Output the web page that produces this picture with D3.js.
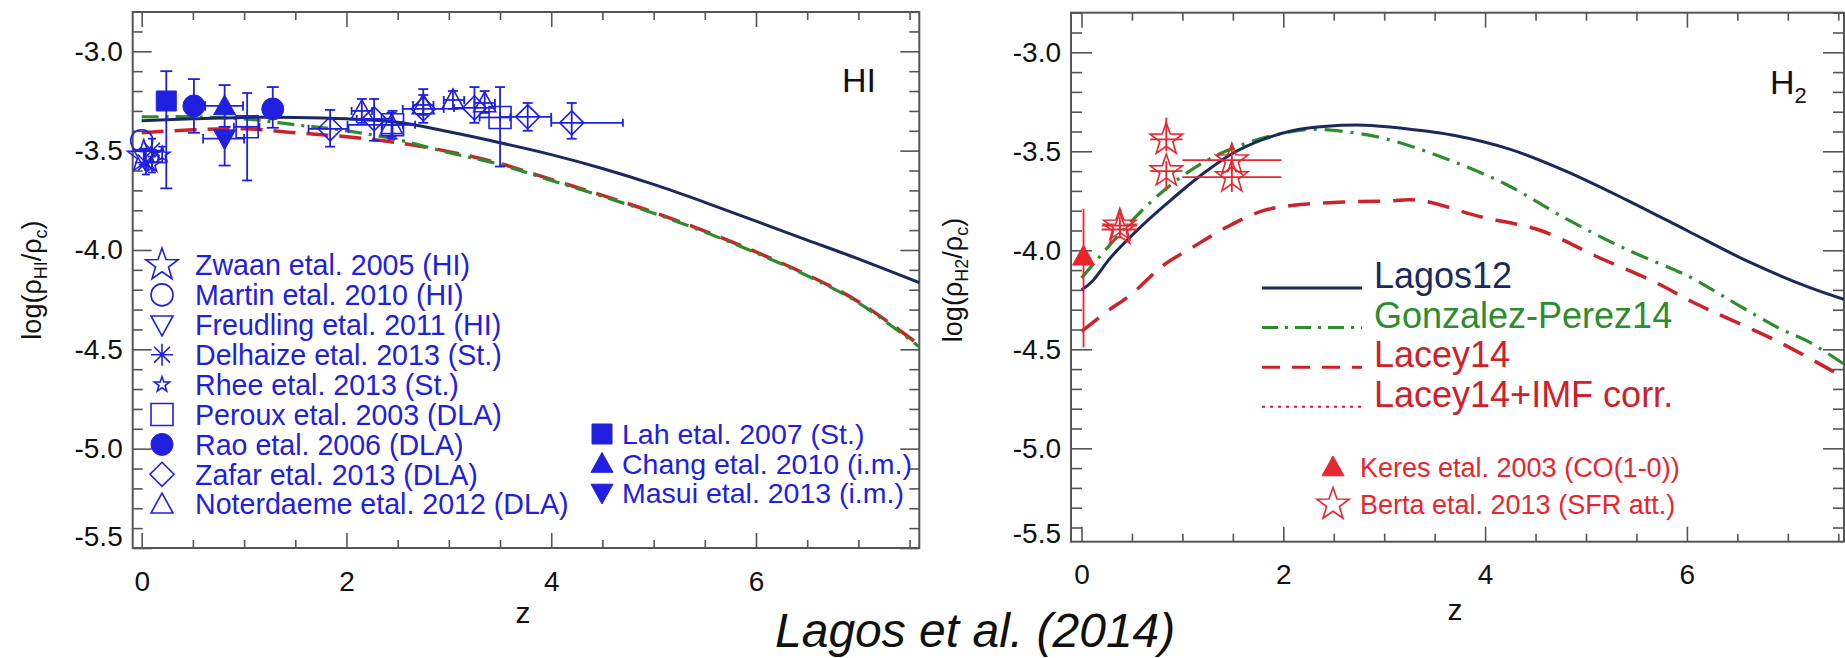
<!DOCTYPE html>
<html>
<head>
<meta charset="utf-8">
<script src="https://cdn.jsdelivr.net/npm/d3@7"></script>
<style>
  body { margin: 0; background: #fff; }
  text { font-family: "Liberation Sans", Arial, sans-serif; }
</style>
</head>
<body>
<script>
// ---- model curves, HI panel ----
const hiZ       = [0, 0.5, 1, 1.5, 2, 2.5, 3, 3.5, 4, 4.5, 5, 5.5, 6, 6.5, 7, 7.6];
const hiLagos12 = [-3.35, -3.34, -3.333, -3.333, -3.34, -3.357, -3.405, -3.46, -3.52, -3.59, -3.67, -3.76, -3.855, -3.95, -4.045, -4.165];
const hiGP14    = [-3.33, -3.33, -3.34, -3.37, -3.40, -3.445, -3.51, -3.57, -3.65, -3.73, -3.815, -3.91, -4.015, -4.13, -4.265, -4.49];
const hiLacey14 = [-3.41, -3.395, -3.39, -3.41, -3.43, -3.46, -3.505, -3.565, -3.645, -3.725, -3.81, -3.905, -4.01, -4.125, -4.26, -4.48];

// ---- model curves, H2 panel ----
const h2LagosZ  = [0, 0.1, 0.3, 0.6, 0.9, 1.2, 1.5, 1.8, 2.1, 2.4, 2.8, 3.2, 3.7, 4.25, 4.8, 5.4, 6.0, 6.6, 7.2, 7.6];
const h2Lagos12 = [-4.2, -4.16, -4.03, -3.875, -3.74, -3.615, -3.51, -3.44, -3.395, -3.375, -3.368, -3.385, -3.42, -3.49, -3.6, -3.745, -3.9, -4.055, -4.185, -4.255];
const h2GPZ     = [0, 0.1, 0.4, 0.7, 1.0, 1.3, 1.6, 1.9, 2.25, 2.6, 3.0, 3.6, 4.2, 4.8, 5.4, 5.95, 6.05, 6.9, 7.2, 7.6];
const h2GP14    = [-4.14, -4.08, -3.905, -3.75, -3.625, -3.53, -3.465, -3.42, -3.39, -3.40, -3.435, -3.535, -3.665, -3.84, -3.995, -4.115, -4.14, -4.39, -4.46, -4.59];
const h2LaceyZ  = [0, 0.25, 0.5, 0.8, 1.1, 1.45, 1.8, 2.1, 2.6, 3.0, 3.35, 3.95, 4.55, 5.1, 5.7, 6.05, 6.3, 6.9, 7.6];
const h2Lacey14 = [-4.41, -4.31, -4.22, -4.08, -3.985, -3.88, -3.80, -3.773, -3.756, -3.752, -3.748, -3.83, -3.90, -4.03, -4.165, -4.26, -4.32, -4.46, -4.655];

// ---- observations: z, value, z range, value range ----
const zwaan      = [{z: 0.02, v: -3.53, vLo: -3.57, vHi: -3.49}];
const martin     = [{z: 0.0, v: -3.45}];
const freudling  = [{z: 0.03, v: -3.54, vLo: -3.58, vHi: -3.50}];
const delhaize   = [{z: 0.04, v: -3.56, vLo: -3.62, vHi: -3.50}, {z: 0.1, v: -3.50, vLo: -3.56, vHi: -3.44}];
const rhee       = [{z: 0.1, v: -3.57, vLo: -3.61, vHi: -3.53}, {z: 0.2, v: -3.52, vLo: -3.56, vHi: -3.48}];
const peroux     = [
  {z: 1.03, v: -3.38, zLo: 0.9, zHi: 1.15, vLo: -3.65, vHi: -3.21},
  {z: 2.45, v: -3.37, zLo: 2.01, zHi: 2.67, vLo: -3.44, vHi: -3.30},
  {z: 3.5, v: -3.333, zLo: 3.3, zHi: 3.6, vLo: -3.58, vHi: -3.18}
];
const rao        = [
  {z: 0.51, v: -3.275, vLo: -3.41, vHi: -3.14},
  {z: 1.28, v: -3.29, vLo: -3.385, vHi: -3.18}
];
const zafar      = [
  {z: 1.84, v: -3.39, zLo: 1.63, zHi: 2.02, vLo: -3.48, vHi: -3.295},
  {z: 2.27, v: -3.34, zLo: 2.1, zHi: 2.45, vLo: -3.45, vHi: -3.24},
  {z: 2.75, v: -3.29, zLo: 2.55, zHi: 2.95, vLo: -3.36, vHi: -3.19},
  {z: 3.25, v: -3.285, zLo: 3.05, zHi: 3.45, vLo: -3.36, vHi: -3.18},
  {z: 3.77, v: -3.33, zLo: 3.5, zHi: 4.0, vLo: -3.40, vHi: -3.26},
  {z: 4.2, v: -3.36, zLo: 4.0, zHi: 4.7, vLo: -3.44, vHi: -3.26}
];
const noterdaeme = [
  {z: 2.15, v: -3.30, zLo: 2.05, zHi: 2.25, vLo: -3.36, vHi: -3.24},
  {z: 2.44, v: -3.37, zLo: 2.35, zHi: 2.55, vLo: -3.43, vHi: -3.31},
  {z: 2.75, v: -3.27, zLo: 2.65, zHi: 2.85, vLo: -3.32, vHi: -3.22},
  {z: 3.04, v: -3.245, zLo: 2.95, zHi: 3.15, vLo: -3.29, vHi: -3.20},
  {z: 3.35, v: -3.26, zLo: 3.25, zHi: 3.45, vLo: -3.31, vHi: -3.20}
];
const lah        = [{z: 0.24, v: -3.25, vLo: -3.69, vHi: -3.10}];
const chang      = [{z: 0.81, v: -3.275, zLo: 0.62, zHi: 0.99, vLo: -3.38, vHi: -3.17}];
const masui      = [{z: 0.81, v: -3.44, zLo: 0.6, zHi: 1.0, vLo: -3.575, vHi: -3.40}];

const keres      = [{z: 0.02, v: -4.03, vLo: -4.49, vHi: -3.79}];
const berta      = [
  {z: 0.38, v: -3.875, zLo: 0.2, zHi: 0.55, vLo: -3.92, vHi: -3.83},
  {z: 0.38, v: -3.895, zLo: 0.2, zHi: 0.55, vLo: -3.94, vHi: -3.85},
  {z: 0.84, v: -3.44, zLo: 0.68, zHi: 1.0, vLo: -3.50, vHi: -3.33},
  {z: 0.84, v: -3.60, zLo: 0.68, zHi: 1.0, vLo: -3.70, vHi: -3.55},
  {z: 1.49, v: -3.545, zLo: 1.0, zHi: 1.98, vLo: -3.60, vHi: -3.46},
  {z: 1.49, v: -3.63, zLo: 1.0, zHi: 1.98, vLo: -3.705, vHi: -3.58}
];

// ---- legends ----
const hiLegendLabels  = ["Zwaan etal. 2005 (HI)", "Martin etal. 2010 (HI)", "Freudling etal. 2011 (HI)",
  "Delhaize etal. 2013 (St.)", "Rhee etal. 2013 (St.)", "Peroux etal. 2003 (DLA)",
  "Rao etal. 2006 (DLA)", "Zafar etal. 2013 (DLA)", "Noterdaeme etal. 2012 (DLA)"];
const hiLegendKeys    = ["star", "circle", "triDown", "asterisk", "smallStar", "square", "circleF", "diamond", "tri"];
const hiLegend2Labels = ["Lah etal. 2007 (St.)", "Chang etal. 2010 (i.m.)", "Masui etal. 2013 (i.m.)"];
const hiLegend2Keys   = ["squareF", "triF", "triDownF"];
const modelLabels     = ["Lagos12", "Gonzalez-Perez14", "Lacey14", "Lacey14+IMF corr."];
const h2LegendLabels  = ["Keres etal. 2003 (CO(1-0))", "Berta etal. 2013 (SFR att.)"];

const xMajor = [0, 2, 4, 6];
const yMajor = [-5.5, -5.0, -4.5, -4.0, -3.5, -3.0];

const BLUE = "#2020e0";
const RED = "#e8262e";
const NAVY = "#1a2a5c";
const GREEN = "#2d8c2d";
const DRED = "#cc2228";
const AXIS = "#555";

const svg = d3.select("body").append("svg")
  .attr("width", 1845)
  .attr("height", 658);

const left = {
  id: "hi",
  x0: 132.7, x1: 919.3, y0: 12, y1: 548,
  x: d3.scaleLinear().domain([0, 6]).range([141.7, 756]),
  y: d3.scaleLinear().domain([-5.5, -3.0]).range([548, 51.3]),
  xPad: 23, yMajorLen: 19, yMinorLen: 10, lastShift: -11
};
const right = {
  id: "h2",
  x0: 1071, x1: 1844, y0: 12.7, y1: 541.7,
  x: d3.scaleLinear().domain([0, 6]).range([1081.5, 1686.9]),
  y: d3.scaleLinear().domain([-5.5, -3.0]).range([547.3, 52.3]),
  xPad: 22, yMajorLen: 21, yMinorLen: 11, lastShift: -14
};

// marker outlines, r = half size in px
function markerPath(shape, r) {
  switch (shape) {
    case "circle":
      return `M${r},0A${r},${r} 0 1,1 ${-r},0A${r},${r} 0 1,1 ${r},0Z`;
    case "square":
      return `M${-r},${-r}H${r}V${r}H${-r}Z`;
    case "diamond":
      return `M0,${-r}L${r},0L0,${r}L${-r},0Z`;
    case "tri":
      return `M0,${-r}L${r},${r * 0.8}L${-r},${r * 0.8}Z`;
    case "triDown":
      return `M0,${r}L${r},${-r * 0.8}L${-r},${-r * 0.8}Z`;
    case "asterisk": {
      const d = r * 0.72;
      return `M0,${-r}V${r}M${-r},0H${r}M${-d},${-d}L${d},${d}M${d},${-d}L${-d},${d}`;
    }
    case "star": {
      const pts = d3.range(10).map(i => {
        const a = -Math.PI / 2 + i * Math.PI / 5;
        const rr = i % 2 ? r * 0.4 : r;
        return [rr * Math.cos(a), rr * Math.sin(a)];
      });
      return "M" + pts.map(p => p.join(",")).join("L") + "Z";
    }
  }
}

const symbols = {
  star:      {shape: "star", r: 17, fill: false},
  circle:    {shape: "circle", r: 11, fill: false},
  triDown:   {shape: "triDown", r: 11, fill: false},
  asterisk:  {shape: "asterisk", r: 11, fill: false},
  smallStar: {shape: "star", r: 8, fill: false},
  square:    {shape: "square", r: 11, fill: false},
  circleF:   {shape: "circle", r: 11, fill: true},
  diamond:   {shape: "diamond", r: 12, fill: false},
  tri:       {shape: "tri", r: 11, fill: false},
  squareF:   {shape: "square", r: 10, fill: true},
  triF:      {shape: "tri", r: 11, fill: true},
  triDownF:  {shape: "triDown", r: 11, fill: true}
};

function drawMarker(g, key, cx, cy, color) {
  const s = symbols[key];
  g.append("path")
    .attr("d", markerPath(s.shape, s.r))
    .attr("transform", `translate(${cx},${cy})`)
    .attr("fill", s.fill ? color : "none")
    .attr("stroke", color)
    .attr("stroke-width", s.fill ? 1 : 1.6);
}

function drawFrame(p) {
  const g = svg.append("g");

  svg.append("clipPath").attr("id", "clip-" + p.id)
    .append("rect")
    .attr("x", p.x0).attr("y", p.y0)
    .attr("width", p.x1 - p.x0).attr("height", p.y1 - p.y0);

  const xMinor = d3.range(0, 7.6, 0.5).filter(d => d % 2 !== 0);
  const yMinor = d3.range(-55, -27).map(d => d / 10).filter(d => Math.round(d * 10) % 5 !== 0);

  const styleAxis = sel => {
    sel.select(".domain").remove();
    sel.selectAll(".tick line").attr("stroke", AXIS).attr("stroke-width", 1.6);
    sel.selectAll(".tick line").filter(d => p.y(d) > p.y1 + 0.5).remove();
    sel.attr("font-family", null).attr("font-size", null);
  };

  // bottom
  g.append("g").attr("transform", `translate(0,${p.y1})`)
    .call(d3.axisBottom(p.x).tickValues(xMajor).tickSizeInner(-15).tickSizeOuter(0)
      .tickPadding(p.xPad).tickFormat(d => d))
    .call(styleAxis)
    .selectAll(".tick text").attr("font-size", 28).attr("fill", "#111");
  g.append("g").attr("transform", `translate(0,${p.y1})`)
    .call(d3.axisBottom(p.x).tickValues(xMinor).tickSizeInner(-8).tickSizeOuter(0).tickFormat(""))
    .call(styleAxis);
  // top
  g.append("g").attr("transform", `translate(0,${p.y0})`)
    .call(d3.axisTop(p.x).tickValues(xMajor).tickSizeInner(-15).tickSizeOuter(0).tickFormat(""))
    .call(styleAxis);
  g.append("g").attr("transform", `translate(0,${p.y0})`)
    .call(d3.axisTop(p.x).tickValues(xMinor).tickSizeInner(-8).tickSizeOuter(0).tickFormat(""))
    .call(styleAxis);
  // left
  const yl = g.append("g").attr("transform", `translate(${p.x0},0)`)
    .call(d3.axisLeft(p.y).tickValues(yMajor).tickSizeInner(-p.yMajorLen).tickSizeOuter(0)
      .tickPadding(10).tickFormat(d => d.toFixed(1)))
    .call(styleAxis);
  yl.selectAll(".tick text").attr("font-size", 28).attr("fill", "#111");
  yl.selectAll(".tick text").filter(d => d === -5.5).attr("y", p.lastShift);
  g.append("g").attr("transform", `translate(${p.x0},0)`)
    .call(d3.axisLeft(p.y).tickValues(yMinor).tickSizeInner(-p.yMinorLen).tickSizeOuter(0).tickFormat(""))
    .call(styleAxis);
  // right
  g.append("g").attr("transform", `translate(${p.x1},0)`)
    .call(d3.axisRight(p.y).tickValues(yMajor).tickSizeInner(-p.yMajorLen).tickSizeOuter(0).tickFormat(""))
    .call(styleAxis);
  g.append("g").attr("transform", `translate(${p.x1},0)`)
    .call(d3.axisRight(p.y).tickValues(yMinor).tickSizeInner(-p.yMinorLen).tickSizeOuter(0).tickFormat(""))
    .call(styleAxis);

  g.append("rect")
    .attr("x", p.x0).attr("y", p.y0)
    .attr("width", p.x1 - p.x0).attr("height", p.y1 - p.y0)
    .attr("fill", "none")
    .attr("stroke", AXIS)
    .attr("stroke-width", 2);
}

function drawCurve(p, zs, vs, color, dash, width) {
  const line = d3.line()
    .x(d => p.x(d[0]))
    .y(d => p.y(d[1]))
    .curve(d3.curveCatmullRom);
  svg.append("path")
    .datum(d3.zip(zs, vs))
    .attr("clip-path", `url(#clip-${p.id})`)
    .attr("d", line)
    .attr("fill", "none")
    .attr("stroke", color)
    .attr("stroke-width", width)
    .attr("stroke-dasharray", dash);
}

function drawPoints(p, rows, key, color, cap) {
  const g = svg.append("g")
    .attr("stroke", color)
    .attr("stroke-width", 1.8);
  rows.forEach(d => {
    const cx = p.x(d.z), cy = p.y(d.v);
    if (d.vLo !== undefined) {
      g.append("line")
        .attr("x1", cx).attr("x2", cx)
        .attr("y1", p.y(d.vLo)).attr("y2", p.y(d.vHi));
      if (cap) {
        [d.vLo, d.vHi].forEach(v => g.append("line")
          .attr("x1", cx - cap).attr("x2", cx + cap)
          .attr("y1", p.y(v)).attr("y2", p.y(v)));
      }
    }
    if (d.zLo !== undefined) {
      g.append("line")
        .attr("x1", p.x(d.zLo)).attr("x2", p.x(d.zHi))
        .attr("y1", cy).attr("y2", cy);
      if (cap) {
        [d.zLo, d.zHi].forEach(z => g.append("line")
          .attr("x1", p.x(z)).attr("x2", p.x(z))
          .attr("y1", cy - cap * 0.8).attr("y2", cy + cap * 0.8));
      }
    }
    drawMarker(svg, key, cx, cy, color);
  });
}

// ================= HI panel =================
drawFrame(left);

drawCurve(left, hiZ, hiLacey14, DRED, "22 11", 3.5);
drawCurve(left, hiZ, hiGP14, GREEN, "17 7 3 7", 3.2);
drawCurve(left, hiZ, hiLagos12, NAVY, null, 3);

drawPoints(left, peroux, "square", BLUE, 5);
drawPoints(left, zafar, "diamond", BLUE, 5);
drawPoints(left, noterdaeme, "tri", BLUE, 5);
drawPoints(left, martin, "circle", BLUE, 5);
drawPoints(left, zwaan, "star", BLUE, 5);
drawPoints(left, freudling, "triDown", BLUE, 5);
drawPoints(left, delhaize, "asterisk", BLUE, 4);
drawPoints(left, rhee, "smallStar", BLUE, 4);
drawPoints(left, lah, "squareF", BLUE, 6);
drawPoints(left, rao, "circleF", BLUE, 6);
drawPoints(left, chang, "triF", BLUE, 6);
drawPoints(left, masui, "triDownF", BLUE, 6);

hiLegendLabels.forEach((label, i) => {
  const cy = 265 + 29.9 * i;
  drawMarker(svg, hiLegendKeys[i], 162, cy, BLUE);
  svg.append("text")
    .attr("x", 195).attr("y", cy).attr("dy", "0.36em")
    .attr("font-size", 28.6).attr("fill", BLUE)
    .text(label);
});
hiLegend2Labels.forEach((label, i) => {
  const cy = 434 + 29.5 * i;
  drawMarker(svg, hiLegend2Keys[i], 602, cy, BLUE);
  svg.append("text")
    .attr("x", 622).attr("y", cy).attr("dy", "0.36em")
    .attr("font-size", 28.5).attr("fill", BLUE)
    .text(label);
});

svg.append("text")
  .attr("x", 842).attr("y", 92)
  .attr("font-size", 34).attr("fill", "#111")
  .text("HI");

const hiLabel = svg.append("text")
  .attr("transform", "translate(41,280) rotate(-90)")
  .attr("text-anchor", "middle")
  .attr("font-size", 27).attr("fill", "#111");
hiLabel.append("tspan").text("log(ρ");
hiLabel.append("tspan").attr("font-size", 18).attr("dy", 6).text("HI");
hiLabel.append("tspan").attr("dy", -6).text("/ρ");
hiLabel.append("tspan").attr("font-size", 18).attr("dy", 6).text("c");
hiLabel.append("tspan").attr("dy", -6).text(")");

svg.append("text")
  .attr("x", 523).attr("y", 623)
  .attr("text-anchor", "middle")
  .attr("font-size", 30).attr("fill", "#111")
  .text("z");

// ================= H2 panel =================
drawFrame(right);

drawCurve(right, h2LaceyZ, h2Lacey14, DRED, "22 13", 3.5);
drawCurve(right, h2GPZ, h2GP14, GREEN, "18 8 3 8", 3.2);
drawCurve(right, h2LagosZ, h2Lagos12, NAVY, null, 3);

drawPoints(right, berta, "star", RED, 0);
keres.forEach(d => {
  svg.append("line")
    .attr("x1", right.x(d.z)).attr("x2", right.x(d.z))
    .attr("y1", right.y(d.vLo)).attr("y2", right.y(d.vHi))
    .attr("stroke", RED).attr("stroke-width", 1.8);
  drawMarker(svg, "triF", right.x(d.z), right.y(d.v), RED);
});

const modelColors = [NAVY, GREEN, DRED, DRED];
const modelDash = [null, "16 7 3 7", "18 12", "3 5"];
modelLabels.forEach((label, i) => {
  const base = 288 + 39.6 * i;
  svg.append("line")
    .attr("x1", 1262).attr("x2", 1362)
    .attr("y1", base).attr("y2", base)
    .attr("stroke", modelColors[i])
    .attr("stroke-width", i === 3 ? 2 : 3)
    .attr("stroke-dasharray", modelDash[i]);
  svg.append("text")
    .attr("x", 1374).attr("y", base)
    .attr("font-size", 36).attr("fill", modelColors[i])
    .text(label);
});

h2LegendLabels.forEach((label, i) => {
  const cy = 467 + 37.5 * i;
  drawMarker(svg, i === 0 ? "triF" : "star", 1333, cy, RED);
  svg.append("text")
    .attr("x", 1360).attr("y", cy).attr("dy", "0.36em")
    .attr("font-size", 27).attr("fill", RED)
    .text(label);
});

svg.append("text")
  .attr("x", 1770).attr("y", 94)
  .attr("font-size", 34).attr("fill", "#111")
  .text("H")
  .append("tspan").attr("font-size", 22).attr("dy", 9).text("2");

const h2Label = svg.append("text")
  .attr("transform", "translate(962,280) rotate(-90)")
  .attr("text-anchor", "middle")
  .attr("font-size", 27).attr("fill", "#111");
h2Label.append("tspan").text("log(ρ");
h2Label.append("tspan").attr("font-size", 18).attr("dy", 6).text("H2");
h2Label.append("tspan").attr("dy", -6).text("/ρ");
h2Label.append("tspan").attr("font-size", 18).attr("dy", 6).text("c");
h2Label.append("tspan").attr("dy", -6).text(")");

svg.append("text")
  .attr("x", 1455).attr("y", 620)
  .attr("text-anchor", "middle")
  .attr("font-size", 30).attr("fill", "#111")
  .text("z");

svg.append("text")
  .attr("x", 775).attr("y", 647)
  .attr("font-size", 48).attr("font-style", "italic").attr("fill", "#111")
  .text("Lagos et al. (2014)");
</script>
</body>
</html>
